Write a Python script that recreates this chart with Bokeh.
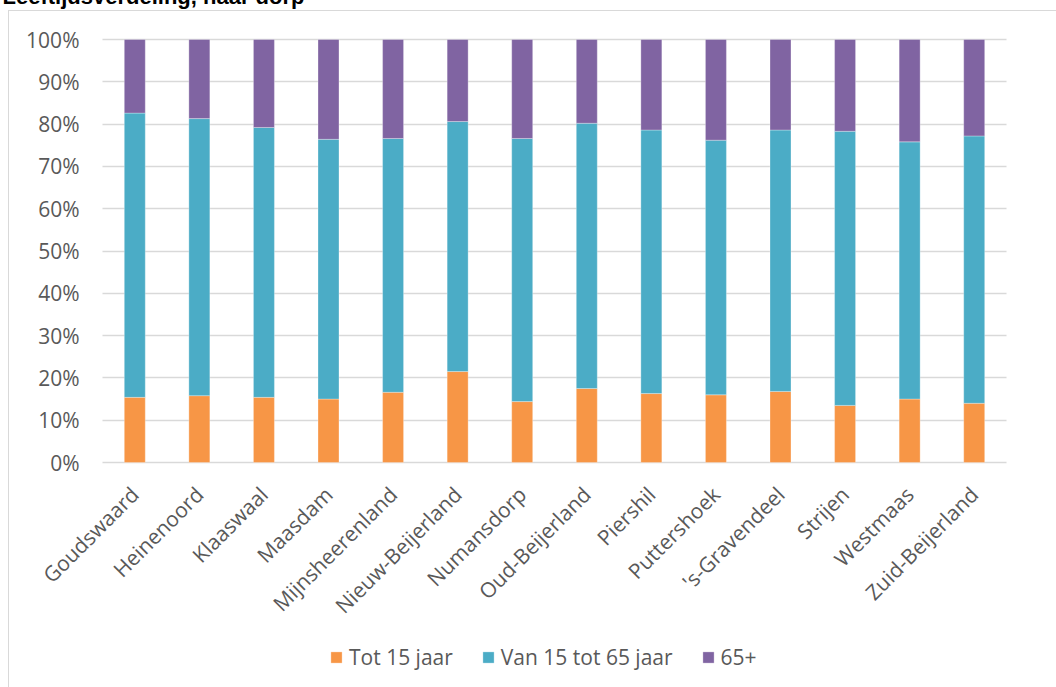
from bokeh.plotting import figure
from bokeh.models import (Range1d, PrintfTickFormatter, Legend, LegendItem, FixedTicker)
from bokeh.embed import file_html
from bokeh.resources import INLINE
import math

villages = ["Goudswaard", "Heinenoord", "Klaaswaal", "Maasdam", "Mijnsheerenland",
            "Nieuw-Beijerland", "Numansdorp", "Oud-Beijerland", "Piershil", "Puttershoek",
            "'s-Gravendeel", "Strijen", "Westmaas", "Zuid-Beijerland"]
tot15 = [15.4, 15.8, 15.4, 15.0, 16.6, 21.5, 14.4, 17.5, 16.3, 16.0, 16.8, 13.5, 15.0, 14.0]
van15tot65 = [67.2, 65.5, 63.8, 61.4, 60.0, 59.1, 62.2, 62.7, 62.3, 60.2, 61.8, 64.8, 60.8, 63.2]
plus65 = [17.4, 18.7, 20.8, 23.6, 23.4, 19.4, 23.4, 19.8, 21.4, 23.8, 21.4, 21.7, 24.2, 22.8]
series = ["tot15", "van15tot65", "plus65"]
series_labels = ["Tot 15 jaar", "Van 15 tot 65 jaar", "65+"]
colors = ["#F79646", "#4BACC6", "#8064A2"]
y_ticks = [0, 10, 20, 30, 40, 50, 60, 70, 80, 90, 100]
title_text = "Leeftijdsverdeling, naar dorp"

n = len(villages)
cat_pos = list(range(n))      # category slots on the x axis

# layout (pixels)
W, H = 1056, 687
PL, PR = 102, 1006            # plot-area left / right
TOP_Y, ZERO_Y = 39, 462       # pixel rows of the 100% and 0% lines
px_per_cat = (PR - PL) / n
x_start = -0.5 - PL / px_per_cat
x_end = n - 0.5 + (W - PR) / px_per_cat
px_per_pct = (ZERO_Y - TOP_Y) / 100.0
y_start = -(H - ZERO_Y) / px_per_pct
y_end = 100 + TOP_Y / px_per_pct

p = figure(x_range=Range1d(x_start, x_end), y_range=Range1d(y_start, y_end),
           width=W, height=H, output_backend="svg", toolbar_location=None,
           min_border_left=0, min_border_right=0, min_border_top=0,
           min_border_bottom=0)

# chart-area border (light grey box, left and top edges visible)
p.stylesheets = [
    ":host { position: relative; }"
    ":host::after { content: ''; position: absolute; left: 8px; top: 10px; right: 0; bottom: 0;"
    " border-left: 1.5px solid #d9d9d9; border-top: 1.5px solid #d9d9d9; pointer-events: none; }"
]

src = dict(x=cat_pos, tot15=tot15, van15tot65=van15tot65, plus65=plus65)
rs = p.vbar_stack(series, x="x", width=0.325, color=colors, source=src,
                  line_color="white", line_width=0.6, line_alpha=0.5)

p.outline_line_color = None
p.background_fill_color = "white"
p.border_fill_color = "white"
p.xgrid.visible = False

# y axis inside the frame, at the left edge of the category band
p.yaxis.fixed_location = -0.5
p.yaxis.ticker = FixedTicker(ticks=y_ticks)
p.yaxis.formatter = PrintfTickFormatter(format="%d%%")
p.yaxis.axis_line_color = None
p.yaxis.minor_tick_line_color = None
p.yaxis.major_tick_out = 0
p.yaxis.minor_tick_out = 0
p.yaxis.major_label_standoff = 23
p.yaxis.major_label_text_font = "Open Sans"
p.yaxis.major_label_text_font_size = "21px"
p.yaxis.major_label_text_color = "#595959"

grid = p.ygrid[0]
grid.ticker = FixedTicker(ticks=y_ticks)
grid.grid_line_color = "#d9d9d9"
grid.grid_line_width = 1.5
if "cross_bounds" in grid.properties():
    grid.cross_bounds = (-0.5, n - 0.5)
    p.yaxis.major_tick_line_color = None
else:
    grid.visible = False
    p.yaxis.level = "underlay"
    p.yaxis.major_tick_in = int(PR - PL)
    p.yaxis.major_tick_line_color = "#d9d9d9"
    p.yaxis.major_tick_line_width = 1.5

# category axis inside the frame, on the 0% line
p.xaxis.fixed_location = 0
p.xaxis.ticker = FixedTicker(ticks=cat_pos)
p.xaxis.major_label_overrides = {i: v for i, v in zip(cat_pos, villages)}
p.xaxis.axis_line_color = None
p.xaxis.major_tick_line_color = None
p.xaxis.minor_tick_line_color = None
p.xaxis.major_tick_out = 0
p.xaxis.minor_tick_out = 0
p.xaxis.major_label_orientation = math.pi / 4
p.xaxis.major_label_standoff = 28
p.xaxis.major_label_text_font = "Open Sans"
p.xaxis.major_label_text_font_size = "21px"
p.xaxis.major_label_text_color = "#595959"

legend = Legend(items=[LegendItem(label=lab, renderers=[r]) for lab, r in zip(series_labels, rs)],
                orientation="horizontal", location=(329, H - 671),
                glyph_width=14, glyph_height=14, label_standoff=6, spacing=28,
                padding=0, margin=0, border_line_color=None, background_fill_alpha=0,
                label_text_font="Open Sans", label_text_font_size="21px",
                label_text_color="#595959")
p.add_layout(legend, "center")

p.title.text = title_text
p.title.align = "left"
p.title.offset = 2
p.title.vertical_align = "top"
p.title.standoff = -34
p.title.text_font = "Liberation Sans"
p.title.text_font_style = "bold"
p.title.text_font_size = "22px"
p.title.text_color = "black"

open("out.html", "w").write(file_html(p, INLINE))
